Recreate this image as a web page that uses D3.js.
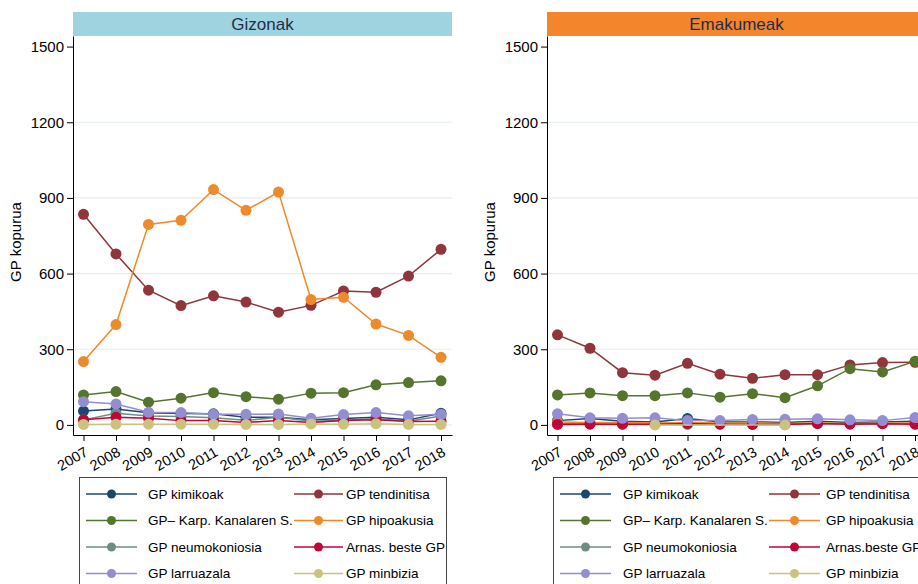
<!DOCTYPE html>
<meta charset="utf-8">
<style>
body { margin: 0; background: #fff; }
svg { font-family: "Liberation Sans", Arial, sans-serif; display: block; }
.grid line { stroke: #e2eef1; stroke-width: 1.2px; }
.axis path, .axis line { stroke: #000; stroke-width: 1px; }
.axis text { fill: #000; }
</style>
<svg width="918" height="584"></svg>
<script src="https://cdn.jsdelivr.net/npm/d3@7"></script>
<script>

// urteak eta serieak
var years = [2007, 2008, 2009, 2010, 2011, 2012, 2013, 2014, 2015, 2016, 2017, 2018];
var yTicks = [0, 300, 600, 900, 1200, 1500];

// Gizonak
var gizKimikoak   = [55, 63, 48, 45, 44, 30, 30, 20, 25, 30, 20, 46];
var gizTendinitis = [835, 678, 534, 473, 512, 487, 447, 474, 531, 526, 590, 696];
var gizKarpo      = [119, 132, 90, 106, 128, 112, 102, 126, 128, 159, 168, 175];
var gizHipoak     = [251, 398, 795, 811, 933, 851, 923, 497, 506, 400, 355, 268];
var gizNeumo      = [20, 46, 35, 33, 28, 18, 30, 15, 18, 25, 15, 35];
var gizArnas      = [20, 30, 26, 17, 17, 10, 17, 10, 17, 20, 14, 15];
var gizLarru      = [92, 83, 50, 49, 42, 42, 43, 26, 41, 49, 36, 42];
var gizMinbizia   = [2, 3, 3, 3, 3, 2, 2, 4, 3, 5, 2, 2];

// Emakumeak
var emaKimikoak   = [17, 25, 15, 12, 25, 12, 12, 10, 15, 10, 12, 15];
var emaTendinitis = [357, 304, 207, 197, 244, 201, 185, 199, 199, 238, 247, 248];
var emaKarpo      = [119, 127, 116, 116, 127, 110, 124, 108, 155, 223, 210, 252];
var emaHipoak     = [12, 10, 10, 8, 10, 8, 8, 6, 8, 6, 8, 8];
var emaNeumo      = [5, 5, 3, 3, 2, 3, 3, 3, 5, 5, 5, 5];
var emaArnas      = [2, 3, 3, 3, 6, 3, 2, 2, 6, 3, 5, 3];
var emaLarru      = [44, 28, 26, 28, 17, 17, 21, 22, 24, 20, 17, 29];
var emaMinbizia   = [null, null, null, 0, null, null, null, 0, null, null, null, null];

var colors = ["#1a476f", "#90353b", "#55752f", "#ee8a2a", "#6e8e84", "#c10534", "#938dd2", "#cac27e"];
var namesGiz = ["GP kimikoak", "GP tendinitisa", "GP\u2013 Karp. Kanalaren S.", "GP hipoakusia",
                "GP neumokoniosia", "Arnas. beste GP", "GP larruazala", "GP minbizia"];
var namesEma = ["GP kimikoak", "GP tendinitisa", "GP\u2013 Karp. Kanalaren S.", "GP hipoakusia",
                "GP neumokoniosia", "Arnas.beste GP", "GP larruazala", "GP minbizia"];

var panels = [
  { title: "Gizonak", fill: "#a0d3e0", ox: 73,
    series: [gizKimikoak, gizTendinitis, gizKarpo, gizHipoak, gizNeumo, gizArnas, gizLarru, gizMinbizia],
    names: namesGiz,
    legend: { x: 79, w: 367, c1: [86, 137, 148], c2: [294, 343, 346] } },
  { title: "Emakumeak", fill: "#f3862c", ox: 547,
    series: [emaKimikoak, emaTendinitis, emaKarpo, emaHipoak, emaNeumo, emaArnas, emaLarru, emaMinbizia],
    names: namesEma,
    legend: { x: 553, w: 380, c1: [560, 611, 623], c2: [769, 820, 826] } }
];

var svg = d3.select("svg");
var pw = 379, plotTop = 36, plotBottom = 435;

var x = d3.scaleLinear().domain([2006.677, 2018.338]).range([0, pw]);
var y = d3.scaleLinear().domain([-40, 1542]).range([plotBottom, plotTop]);

panels.forEach(function(p) {
  var g = svg.append("g").attr("transform", "translate(" + p.ox + ",0)");

  // goiburua
  g.append("rect").attr("x", 0).attr("y", 12).attr("width", pw).attr("height", 24).attr("fill", p.fill);
  g.append("text").attr("x", pw / 2).attr("y", 29.5).attr("text-anchor", "middle")
    .style("font-size", "17px").attr("fill", "#1f2d4a").text(p.title);

  // sareta
  g.append("g").attr("class", "grid").selectAll("line")
    .data(yTicks.slice(0, 5)).enter().append("line")
    .attr("x1", 0).attr("x2", pw)
    .attr("y1", function(d) { return y(d); }).attr("y2", function(d) { return y(d); });

  // ardatzak
  var ya = g.append("g").attr("class", "axis")
    .call(d3.axisLeft(y).tickValues(yTicks).tickFormat(d3.format("d"))
      .tickSize(6).tickSizeOuter(0).tickPadding(3));
  ya.selectAll("text").style("font-size", "15px");

  var xa = g.append("g").attr("class", "axis").attr("transform", "translate(0," + plotBottom + ")")
    .call(d3.axisBottom(x).tickValues(years).tickFormat(d3.format("d")).tickSize(6).tickSizeOuter(0));
  xa.selectAll("text")
    .style("font-size", "14.5px")
    .attr("text-anchor", "end")
    .attr("dy", null)
    .attr("x", 0).attr("y", 0)
    .attr("transform", "translate(5,20) rotate(-30)");

  g.append("text")
    .attr("transform", "translate(" + (-52) + "," + 242 + ") rotate(-90)")
    .attr("text-anchor", "middle").style("font-size", "15px").text("GP kopurua");

  // lerroak
  p.series.forEach(function(s, k) {
    var pts = s.map(function(v, i) { return { v: v, yr: years[i] }; })
      .filter(function(d) { return d.v != null; });
    g.append("path")
      .datum(pts)
      .attr("fill", "none").attr("stroke", colors[k]).attr("stroke-width", 1.5)
      .attr("d", d3.line().x(function(d) { return x(d.yr); }).y(function(d) { return y(d.v); }));
    g.append("g").selectAll("circle").data(pts).enter().append("circle")
      .attr("cx", function(d) { return x(d.yr); })
      .attr("cy", function(d) { return y(d.v); })
      .attr("r", 5.5).attr("fill", colors[k]);
  });

  // legenda
  var L = p.legend;
  svg.append("rect").attr("x", L.x + 0.5).attr("y", 477.5).attr("width", L.w).attr("height", 120)
    .attr("fill", "#fff").attr("stroke", "#444").attr("stroke-width", 1);
  var rowsY = [494, 520.5, 547, 573.5];
  p.names.forEach(function(name, k) {
    var c = k % 2 === 0 ? L.c1 : L.c2;
    var ry = rowsY[Math.floor(k / 2)];
    svg.append("line").attr("x1", c[0]).attr("x2", c[1]).attr("y1", ry).attr("y2", ry)
      .attr("stroke", colors[k]).attr("stroke-width", 1.5);
    svg.append("circle").attr("cx", (c[0] + c[1]) / 2).attr("cy", ry).attr("r", 4.5).attr("fill", colors[k]);
    svg.append("text").attr("x", c[2]).attr("y", ry + 4.8).style("font-size", "13.5px").text(name);
  });
});

</script>
